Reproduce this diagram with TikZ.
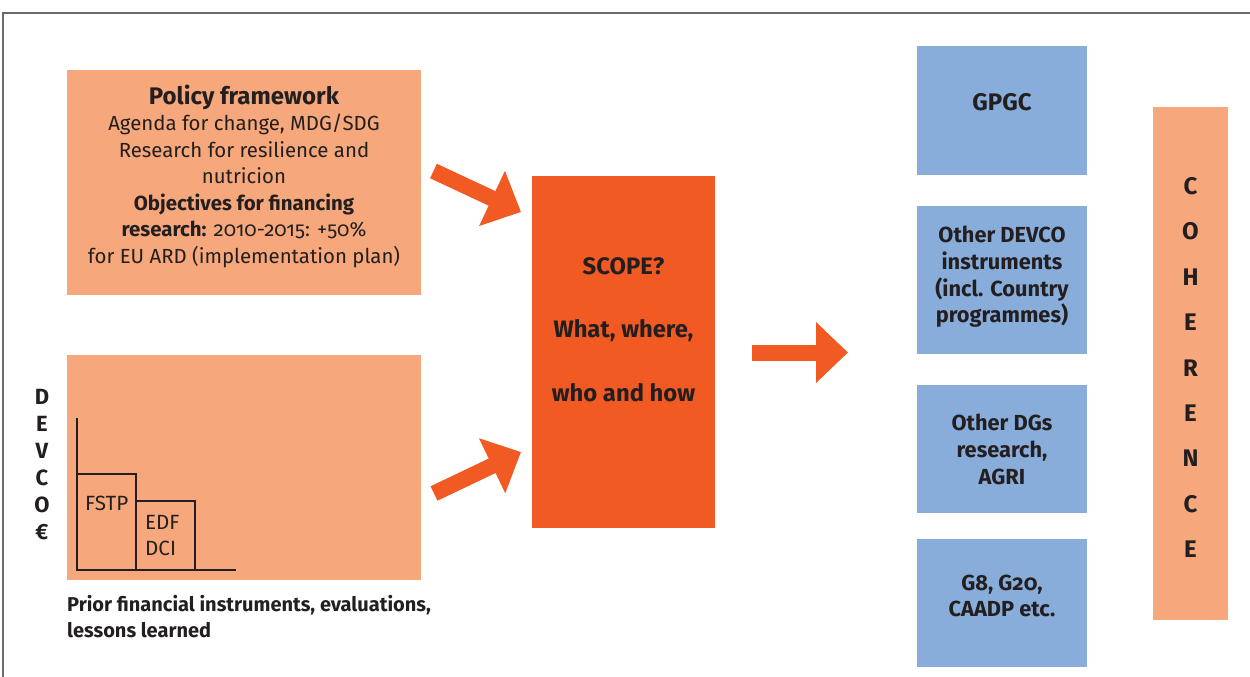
\documentclass[tikz,border=0pt]{standalone}
\usepackage{fontspec}
\setmainfont{Fira Sans}[Numbers=OldStyle]
\usetikzlibrary{arrows.meta}
\definecolor{lor}{HTML}{F6A77B}
\definecolor{dor}{HTML}{F15A22}
\definecolor{lbl}{HTML}{89ADDA}
\definecolor{txt}{HTML}{231F20}
\definecolor{frm}{HTML}{6A6A6A}
\tikzset{
  box/.style={inner sep=0pt, outer sep=0pt, draw=none},
  lbox/.style={box, fill=lor},
  bbox/.style={box, fill=lbl, minimum width=170pt},
  lab/.style={text=txt, align=center, inner sep=0pt},
  fat/.style={draw=dor, line width=16pt, -{Triangle[length=32pt,width=59pt]}},
  chart/.style={draw=txt, line width=1.3pt}
}
\begin{document}
\begin{tikzpicture}[x=1pt,y=-1pt]
\useasboundingbox (0,0) rectangle (1250,677);
% frame
\draw[frm, line width=1.3pt] (3,677) -- (3,13) -- (1250,13);

% left boxes
\node[lbox, minimum width=354pt, minimum height=225pt] (pol) at (244,182.5) {};
\node[lab, font=\fontsize{20.4}{26.5}\selectfont] (poltxt) at (244,176) {{\bfseries\fontsize{24}{26.5}\selectfont Policy framework}\\Agenda for change, MDG/SDG\\Research for resilience and\\nutricion\\\textbf{Objectives for financing}\\\textbf{research:} 2010-2015: +50\%\\for EU ARD (implementation plan)};

\node[lbox, minimum width=354pt, minimum height=225pt] (prior) at (244,467.5) {};
\draw[chart] (77,418) -- (77,570) -- (236,570);
\draw[chart] (77,474) -- (136,474) -- (136,570);
\draw[chart] (136,501) -- (195,501) -- (195,570);
\node[lab, font=\fontsize{20.6}{26.5}\selectfont, anchor=west] (fstp) at (85,503) {FSTP};
\node[lab, font=\fontsize{20.6}{26.5}\selectfont, anchor=west, align=left] (edf) at (145,535.5) {EDF\\DCI};
\node[lab, font=\bfseries\fontsize{20}{26}\selectfont, anchor=west, align=left] (cap) at (67,617) {Prior financial instruments, evaluations,\\lessons learned};
\node[lab, font=\bfseries\fontsize{22}{27}\selectfont] (devco) at (42,464.5) {D\\E\\V\\C\\O\\€};

% scope
\node[box, fill=dor, minimum width=183pt, minimum height=352pt] (scope) at (623.5,352) {};
\node[lab, font=\bfseries\fontsize{23.8}{63.5}\selectfont] (scopetxt) at (623.5,329.5) {SCOPE?\\What, where,\\who and how};

% arrows
\coordinate (a1s) at (433.5,171);
\coordinate (a1e) at (521,212);
\coordinate (a2s) at (434,493.5);
\coordinate (a2e) at (521,452);
\coordinate (a3s) at (752,352.5);
\coordinate (a3e) at (848,352.5);
\draw[fat] (a1s) -- (a1e);
\draw[fat] (a2s) -- (a2e);
\draw[fat] (a3s) -- (a3e);

% right boxes
\node[bbox, minimum height=129pt] (gpgc) at (1002,110.5) {};
\node[lab, font=\bfseries\fontsize{24}{27}\selectfont] at (1002,102) {GPGC};
\node[bbox, minimum height=148pt] (odevco) at (1002,280) {};
\node[lab, font=\bfseries\fontsize{21.8}{26.7}\selectfont] at (1002,277) {Other DEVCO\\instruments\\(incl. Country\\programmes)};
\node[bbox, minimum height=128pt] (dgs) at (1002,449) {};
\node[lab, font=\bfseries\fontsize{21.8}{26.7}\selectfont] at (1002,449.5) {Other DGs\\research,\\AGRI};
\node[bbox, minimum height=128pt] (g8) at (1002,603) {};
\node[lab, font=\bfseries\fontsize{21.8}{26.7}\selectfont] at (1002,596) {G8, G20,\\CAADP etc.};

% coherence
\node[lbox, minimum width=75pt, minimum height=513pt] (coh) at (1190.5,363.5) {};
\node[lab, font=\bfseries\fontsize{24}{45.4}\selectfont] at (1190.5,367.5) {C\\O\\H\\E\\R\\E\\N\\C\\E};
\end{tikzpicture}
\end{document}
